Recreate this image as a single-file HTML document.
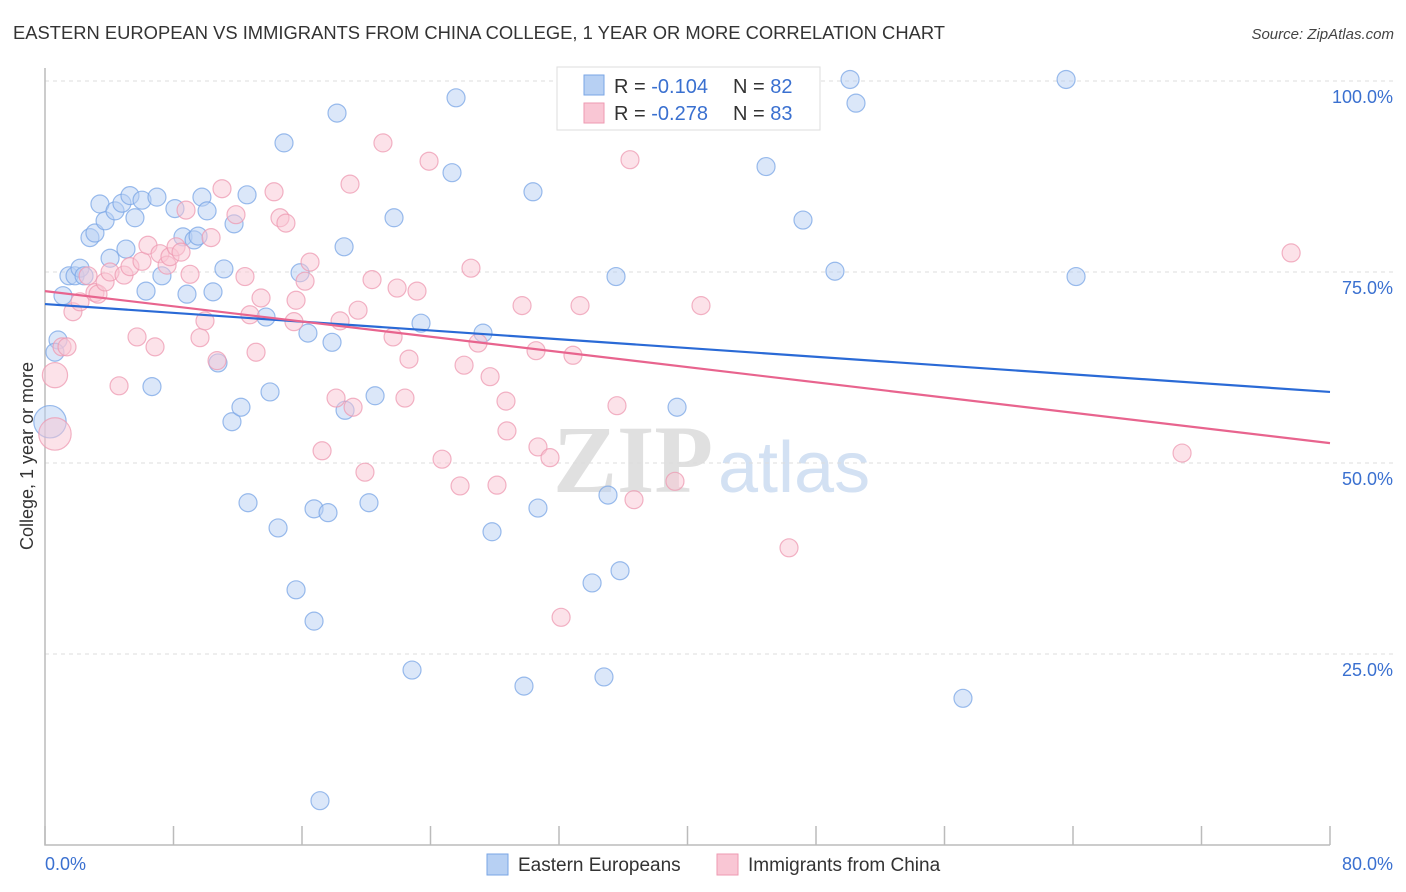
<!DOCTYPE html>
<html><head><meta charset="utf-8">
<style>
body{margin:0;background:#fff;font-family:"Liberation Sans",sans-serif;}
svg{display:block}
</style></head>
<body>
<svg id="chart" width="1406" height="892" xmlns="http://www.w3.org/2000/svg">
<text x="13" y="39" font-size="18" fill="#333" textLength="932" lengthAdjust="spacingAndGlyphs" font-family="Liberation Sans, sans-serif">EASTERN EUROPEAN VS IMMIGRANTS FROM CHINA COLLEGE, 1 YEAR OR MORE CORRELATION CHART</text>
<text x="1394" y="39" font-size="15" fill="#444" text-anchor="end" font-style="italic">Source: ZipAtlas.com</text>
<g>
<text x="553" y="492" font-size="96" fill="#e0e0e0" font-family="Liberation Serif, serif" font-weight="bold">ZIP</text>
<text x="718" y="492" font-size="72" fill="#d3e1f3">atlas</text>
</g>
<g id="grid"></g>
<g id="axes"></g>
<g id="pts"></g>
<g id="trends"></g>
<g>
<rect x="557" y="67" width="263" height="63" fill="#fff" stroke="#ddd"/>
<rect x="584" y="75" width="20" height="20" fill="#b7d0f3" stroke="#7aa6e6"/>
<rect x="584" y="103" width="20" height="20" fill="#f9c6d4" stroke="#ee9ab2"/>
<text x="614" y="93" font-size="20" fill="#333">R = <tspan fill="#3a70d0">-0.104</tspan></text>
<text x="733" y="93" font-size="20" fill="#333">N = <tspan fill="#3a70d0">82</tspan></text>
<text x="614" y="120" font-size="20" fill="#333">R = <tspan fill="#3a70d0">-0.278</tspan></text>
<text x="733" y="120" font-size="20" fill="#333">N = <tspan fill="#3a70d0">83</tspan></text>
</g>
<text transform="translate(33,456) rotate(-90)" font-size="18" fill="#333" text-anchor="middle">College, 1 year or more</text>
<g>
<rect x="487" y="854" width="21" height="21" fill="#b7d0f3" stroke="#7aa6e6"/>
<text x="518" y="871" font-size="19" fill="#333">Eastern Europeans</text>
<rect x="717" y="854" width="21" height="21" fill="#f9c6d4" stroke="#ee9ab2"/>
<text x="748" y="871" font-size="19" fill="#333">Immigrants from China</text>
</g>
</svg>
<script>
const xTicks=[0,10,20,30,40,50,60,70,80];
const yTicks=[25,50,75,100];
const yTickLabels=["25.0%","50.0%","75.0%","100.0%"];
const xEndLabels=["0.0%","80.0%"];
const blueX=[0.81,0.62,0.31,1.12,1.49,1.87,2.18,2.43,2.80,3.11,3.42,3.74,4.36,4.79,5.04,5.29,5.60,4.05,6.04,6.29,6.97,6.66,7.28,8.09,8.84,8.59,9.28,9.53,9.77,10.09,10.46,10.77,11.14,11.64,11.77,12.20,12.58,12.64,13.76,14.01,14.51,14.88,15.63,15.88,16.37,16.75,16.75,17.12,17.62,17.87,18.18,18.62,18.68,20.17,20.55,21.73,22.85,23.41,25.34,25.59,27.27,27.83,29.82,30.38,30.69,34.06,34.80,35.05,35.55,35.80,39.35,44.89,47.19,49.18,50.12,50.49,57.15,63.57,64.19];
const blueY=[66.1,64.5,55.4,71.9,74.5,74.5,75.5,74.5,79.5,80.1,83.9,81.7,83.0,84.0,78.0,85.0,82.1,76.8,84.4,72.5,84.8,60.0,74.5,83.3,72.1,79.6,79.2,79.7,84.8,83.0,72.4,63.1,75.4,55.4,81.3,57.3,85.1,44.8,69.1,59.3,41.5,91.9,33.4,74.9,67.0,44.0,29.3,5.8,43.5,65.8,95.8,78.3,56.9,44.8,58.8,82.1,22.9,68.3,88.0,97.8,67.0,41.0,20.8,85.5,44.1,34.3,22.0,45.8,74.4,35.9,57.3,88.8,81.8,75.1,100.2,97.1,19.2,100.2,74.4];
const blueSize=[1,1,1.8];
const pinkX=[0.62,0.62,1.06,1.37,1.74,2.18,2.68,3.11,3.30,3.74,4.05,4.61,4.92,5.29,5.73,6.04,6.41,6.85,7.16,7.60,7.78,8.16,8.47,8.78,9.03,9.65,9.96,10.34,10.71,11.02,11.89,12.45,12.76,13.14,13.45,14.26,14.63,15.00,15.50,15.63,16.19,16.50,17.25,18.12,18.37,18.99,19.18,19.49,19.92,20.36,21.04,21.67,21.92,22.41,22.66,23.16,23.91,24.72,25.84,26.09,26.52,26.96,27.71,28.14,28.70,28.76,29.70,30.69,31.44,32.13,32.87,33.31,35.61,36.42,36.67,39.22,40.84,46.32,70.79,77.58,30.57];
const pinkY=[53.8,61.5,65.2,65.2,69.8,71.1,74.5,72.3,72.1,73.7,75.0,60.1,74.6,75.7,66.5,76.4,78.5,65.2,77.4,75.9,77.0,78.3,77.6,83.1,74.7,66.4,68.6,79.5,63.4,85.9,82.5,74.4,69.4,64.5,71.6,85.5,82.1,81.4,68.5,71.3,73.8,76.3,51.6,58.5,68.6,86.5,57.3,70.0,48.8,74.0,91.9,66.5,72.9,58.5,63.6,72.5,89.5,50.5,47.0,62.8,75.5,65.7,61.3,47.1,58.1,54.2,70.6,52.1,50.7,29.8,64.1,70.6,57.5,89.7,45.2,47.6,70.6,38.9,51.3,77.5,64.7];
const pinkSize=[1.8,1.4];
const blueTrend=[70.8,59.3];
const pinkTrend=[72.5,52.6];

const NS="http://www.w3.org/2000/svg";
const X=v=>45+v/80*1285;
const Y=v=>845-v/100*764;
function mk(tag,attrs,parent){const e=document.createElementNS(NS,tag);for(const k in attrs)e.setAttribute(k,attrs[k]);parent.appendChild(e);return e;}
const grid=document.getElementById('grid'),axes=document.getElementById('axes'),pts=document.getElementById('pts'),trends=document.getElementById('trends');
yTicks.forEach((t,i)=>{
  const l=mk('line',{x1:45,x2:1394,y1:Y(t),y2:Y(t),stroke:'#ddd','stroke-dasharray':'4,4'},grid);
  
  
  const tx=mk('text',{x:1393,y:Y(t)+22,'font-size':18,fill:'#3a70d0','text-anchor':'end'},axes);
  tx.textContent=yTickLabels[i];
  
  
});
const ax=mk('path',{d:`M45 68 V845 H1330`,stroke:'#bbb',fill:'none','stroke-width':1.5},axes);


for(let i=0;i<=10;i++){
  const v=i*8;
  const t=mk('line',{x1:X(v),x2:X(v),y1:826,y2:845,stroke:'#bbb','stroke-width':1.5},axes);
  
  
}
[[0,'start'],[80,'end']].forEach(([v,a],i)=>{
  const t=mk('text',{x:i?1393:45,y:870,'font-size':18,fill:'#3a70d0','text-anchor':a},axes);
  t.textContent=xEndLabels[i];
  
  
});
function series(xs,ys,sz,fill,stroke,name){
  xs.forEach((x,i)=>{
    const c=mk('circle',{cx:X(x),cy:Y(ys[i]),r:9*(sz[i]||1),fill:fill,'fill-opacity':0.5,stroke:stroke,'stroke-width':1.2,'stroke-opacity':0.75},pts);
    
    
  });
}
series(blueX,blueY,blueSize,'#b7d0f3','#7aa6e6','eastern-european-point');
series(pinkX,pinkY,pinkSize,'#f9c6d4','#ee9ab2','china-immigrant-point');
const bl=mk('line',{x1:X(0),y1:Y(blueTrend[0]),x2:X(80),y2:Y(blueTrend[1]),stroke:'#2a6ad6','stroke-width':2.2},trends);


const pl=mk('line',{x1:X(0),y1:Y(pinkTrend[0]),x2:X(80),y2:Y(pinkTrend[1]),stroke:'#e8648e','stroke-width':2.2},trends);


</script>
</body></html>
